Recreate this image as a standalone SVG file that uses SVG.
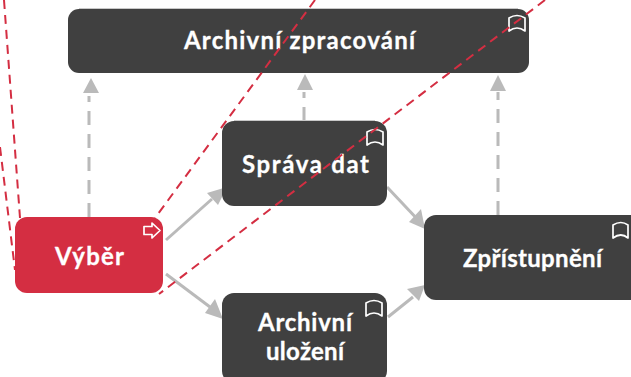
<svg xmlns="http://www.w3.org/2000/svg" width="631" height="377" viewBox="0 0 631 377">
<style>
.box{fill:#404040}
.edge{fill:none;stroke:#c8c8c8;stroke-width:1}
.red{fill:#d42e42}
.t{font-family:"Lato","Liberation Sans",sans-serif;font-weight:700;font-size:24px;fill:#fff;text-anchor:middle;stroke:#fff;stroke-width:.3}
.ic{fill:none;stroke:#fff;stroke-width:1.7;stroke-linejoin:round}
.da{fill:none;stroke:#bababa;stroke-width:3;stroke-dasharray:14 9}
.so{fill:none;stroke:#bababa;stroke-width:3}
.ah{fill:#bababa}
.rd{fill:none;stroke:#d42e42;stroke-width:2;stroke-dasharray:9 6}
</style>
<rect width="631" height="377" fill="#fff"/>
<g id="connectors">
<path class="da" d="M89 217V96"/><path class="ah" d="M91 78l8 15H83z"/>
<path class="da" d="M304 121V92"/><path class="ah" d="M305 74l8 16H297z"/>
<path class="da" d="M498 215V92"/><path class="ah" d="M498 75l8 16H490z"/>
<path class="so" d="M166 240L212 199"/><path class="ah" d="M227 187L218 205L207 193z"/>
<path class="so" d="M166 274L210 307"/><path class="ah" d="M223 319L205 313L215 299z"/>
<path class="so" d="M387 187L420 222"/><path class="ah" d="M425 229L409 222L421 209z"/>
<path class="so" d="M388 317L413 297"/><path class="ah" d="M425 285L419 301L407 289z"/>
</g>
<g id="archivni-zpracovani"><rect class="box" x="68" y="9" width="461" height="64" rx="11"/>
<path class="edge" d="M79 8.500H518"/>
<text class="t" x="299.500" y="49" textLength="231">Archivní zpracování</text>
<path class="ic" d="M509 31V18Q517 13 525 18V31Q517 25 509 31z"/></g>
<g id="sprava-dat"><rect class="box" x="222" y="121" width="165" height="85" rx="12"/>
<path class="edge" d="M234 120.500H375"/>
<text class="t" x="305.500" y="173" textLength="127">Správa dat</text>
<path class="ic" d="M367 145V132Q375 127 383 132V145Q375 139 367 145z"/></g>
<g id="vyber"><rect class="red" x="15" y="217" width="148" height="76" rx="12"/>
<text class="t" x="89.500" y="265" textLength="69">Výběr</text>
<path class="ic" d="M144 226.500H152V223L160 230.500L152 238V234.500H144z"/></g>
<g id="archivni-ulozeni"><rect class="box" x="222" y="293" width="165" height="90" rx="12"/>
<text class="t" x="305" y="331" textLength="94">Archivní</text><text class="t" x="305" y="360" textLength="78">uložení</text>
<path class="ic" d="M366 316V303Q374 298 382 303V316Q374 310 366 316z"/></g>
<g id="zpristupneni"><rect class="box" x="424" y="215" width="220" height="85" rx="12"/>
<text class="t" x="532.500" y="267" textLength="139">Zpřístupnění</text>
<path class="ic" d="M613 238V225Q621 220 628 225V238Q621 232 613 238z"/></g>
<g id="red-lines">
<path class="rd" d="M0 147L15 270"/>
<path class="rd" d="M4 0L20 218"/>
<path class="rd" d="M315 0L155 218"/>
<path class="rd" d="M545 0L159 294"/>
</g>
</svg>
